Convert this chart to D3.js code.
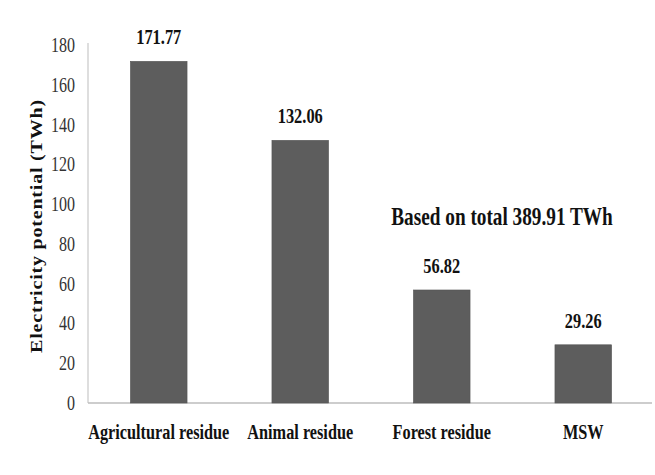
<!DOCTYPE html>
<html><head><meta charset="utf-8">
<script src="https://cdn.jsdelivr.net/npm/d3@7"></script>
<style>body{margin:0;background:#fff}svg{display:block}text{font-family:"Liberation Serif","Times New Roman",serif}</style>
</head><body>
<svg id="c" width="655" height="475"></svg>
<script>
const categories = ["Agricultural residue", "Animal residue", "Forest residue", "MSW"];
const values = [171.77, 132.06, 56.82, 29.26];
const valueLabels = ["171.77", "132.06", "56.82", "29.26"];
const yTicks = [0, 20, 40, 60, 80, 100, 120, 140, 160, 180];
const yTitle = "Electricity potential (TWh)";
const note = "Based on total 389.91 TWh";

const svg = d3.select("#c");
const W = 655, H = 475;
const m = {left: 88, right: 1, top: 45, bottom: 72};
const x = d3.scaleBand().domain(categories).range([m.left, W - m.right]).paddingInner(0.6).paddingOuter(0.3);
const y = d3.scaleLinear().domain([0, 180]).range([H - m.bottom, m.top]);

// axes lines
svg.append("line").attr("x1", m.left).attr("x2", m.left).attr("y1", y(180) - 2).attr("y2", y(0))
  .attr("stroke", "#c8c8c8").attr("stroke-width", 1.2);
svg.append("line").attr("x1", m.left).attr("x2", 652).attr("y1", y(0)).attr("y2", y(0))
  .attr("stroke", "#bdbdbd").attr("stroke-width", 1.6);

// y tick labels
svg.append("g").selectAll("text").data(yTicks).join("text")
  .attr("transform", d => `translate(75,${y(d) + 7}) scale(0.8,1)`)
  .attr("text-anchor", "end").attr("font-size", 20).attr("fill", "#333").text(d => d);

// y title
svg.append("text").attr("transform", `translate(42,${(y(0)+y(180))/2 + 2}) rotate(-90) scale(1,0.8)`)
  .attr("text-anchor", "middle").attr("font-size", 20).attr("letter-spacing", 0.8)
  .attr("font-weight", "bold").attr("fill", "#111").text(yTitle);

// bars
svg.append("g").selectAll("rect").data(values).join("rect")
  .attr("x", (d, i) => x(categories[i])).attr("width", x.bandwidth())
  .attr("y", d => y(d)).attr("height", d => y(0) - y(d))
  .attr("fill", "#5d5d5d").attr("stroke", "#545454").attr("stroke-width", 0.6);

// value labels
svg.append("g").selectAll("text").data(values).join("text")
  .attr("transform", (d, i) => `translate(${x(categories[i]) + x.bandwidth()/2},${y(d) - 17}) scale(0.78,1)`)
  .attr("text-anchor", "middle").attr("font-size", 21).attr("font-weight", "bold").attr("fill", "#111")
  .text((d, i) => valueLabels[i]);

// category labels
svg.append("g").selectAll("text").data(categories).join("text")
  .attr("transform", d => `translate(${x(d) + x.bandwidth()/2},439) scale(0.74,1)`)
  .attr("text-anchor", "middle").attr("font-size", 22).attr("font-weight", "bold").attr("fill", "#111").text(d => d);

// note
svg.append("text").attr("transform", `translate(502,225) scale(0.77,1)`)
  .attr("text-anchor", "middle").attr("font-size", 25).attr("font-weight", "bold").attr("fill", "#111").text(note);
</script>
</body></html>
